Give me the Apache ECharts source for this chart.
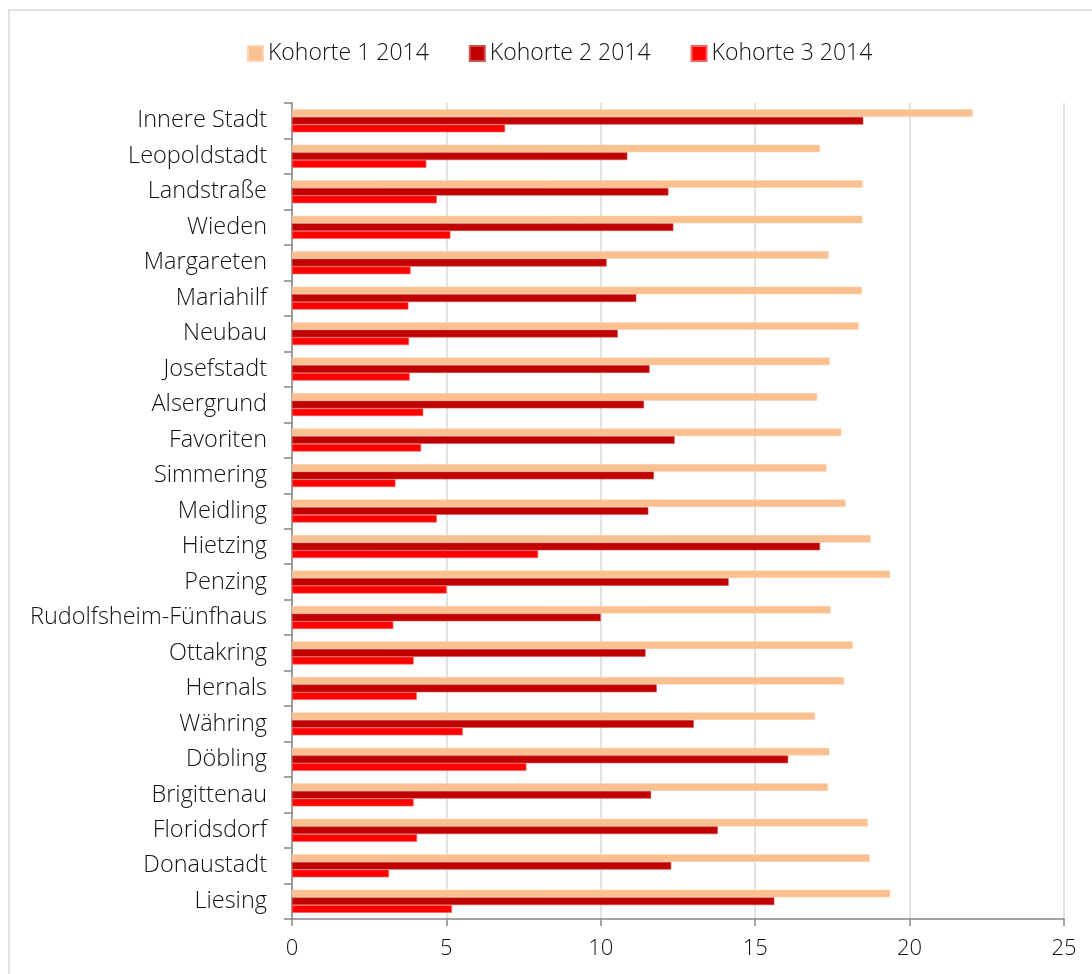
<!DOCTYPE html>
<html>
<head>
<meta charset="utf-8">
<script src="https://cdn.jsdelivr.net/npm/echarts@6/dist/echarts.min.js"></script>
<style>
html,body{margin:0;padding:0;background:#fff;}
#chart{width:1092px;height:974px;}
</style>
</head>
<body>
<div id="chart"></div>
<script>
const categories = ["Innere Stadt","Leopoldstadt","Landstraße","Wieden","Margareten","Mariahilf","Neubau","Josefstadt","Alsergrund","Favoriten","Simmering","Meidling","Hietzing","Penzing","Rudolfsheim-Fünfhaus","Ottakring","Hernals","Währing","Döbling","Brigittenau","Floridsdorf","Donaustadt","Liesing"];
const kohorte1 = [22.04,17.10,18.48,18.47,17.38,18.46,18.35,17.42,17.01,17.79,17.31,17.93,18.74,19.37,17.44,18.16,17.88,16.94,17.40,17.36,18.65,18.71,19.37];
const kohorte2 = [18.50,10.86,12.19,12.35,10.19,11.15,10.55,11.58,11.40,12.39,11.72,11.54,17.10,14.14,10.00,11.45,11.81,13.01,16.07,11.63,13.79,12.28,15.62];
const kohorte3 = [6.90,4.35,4.69,5.13,3.84,3.77,3.79,3.81,4.25,4.18,3.35,4.69,7.97,5.01,3.28,3.94,4.04,5.53,7.59,3.94,4.05,3.14,5.18];
const seriesNames = ["Kohorte 1 2014","Kohorte 2 2014","Kohorte 3 2014"];
const xTicks = {min:0, max:25, interval:5};

const FONT = "'Open Sans', 'Noto Sans', sans-serif";
const chart = echarts.init(document.getElementById('chart'), null, {renderer:'canvas'});
const colors = ['#FAC090','#C00000','#FF0000'];
const borders = ['#FCD5B4','#D05050','#FF6060'];
const data = [kohorte1,kohorte2,kohorte3];

chart.setOption({
  animation:false,
  textStyle:{fontFamily:FONT},
  graphic:[{type:'rect', shape:{x:9, y:10, width:1200, height:1200}, style:{fill:'none', stroke:'#d9d9d9', lineWidth:1.5}, silent:true, z:-10}],
  legend:{
    top:37, left:242,
    itemWidth:15, itemHeight:15, itemGap:40,
    icon:'rect',
    textStyle:{fontSize:23, fontWeight:300, color:'#111', fontFamily:FONT},
    data:seriesNames
  },
  grid:{left:292, right:28, top:103, bottom:55, containLabel:false},
  xAxis:{
    type:'value', min:xTicks.min, max:xTicks.max, interval:xTicks.interval,
    axisLine:{show:true, lineStyle:{color:'#868686', width:1.5}},
    axisTick:{show:true, length:7, lineStyle:{color:'#868686', width:1.5}},
    axisLabel:{fontSize:22, fontWeight:300, color:'#111', margin:19, fontFamily:FONT},
    splitLine:{show:true, lineStyle:{color:'#d9d9d9', width:1.5}}
  },
  yAxis:{
    type:'category', data:categories, inverse:true,
    axisLine:{show:true, lineStyle:{color:'#868686', width:1.5}},
    axisTick:{show:true, length:8, lineStyle:{color:'#868686', width:1.5}},
    axisLabel:{fontSize:23.5, fontWeight:300, color:'#111', margin:25, fontFamily:FONT, padding:[4,0,0,0]},
    splitLine:{show:false}
  },
  series: seriesNames.map((n,i)=>({
    name:n, type:'bar', data:data[i],
    barGap:'0%', barCategoryGap:'35%',
    itemStyle:{color:colors[i], borderColor:borders[i], borderWidth:0.6},
    emphasis:{disabled:true}
  }))
});
</script>
</body>
</html>
